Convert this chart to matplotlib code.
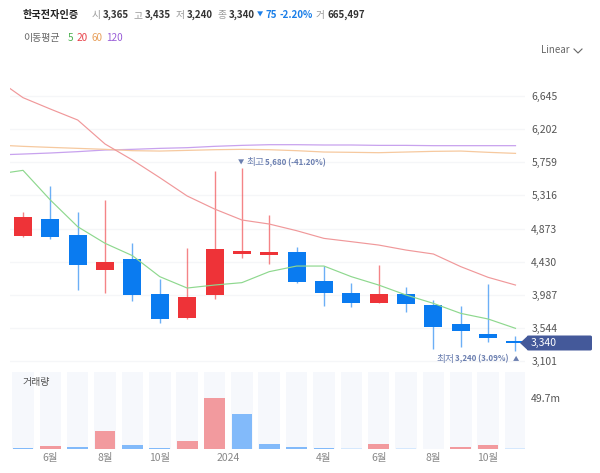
import matplotlib
matplotlib.use("Agg")
import matplotlib.pyplot as plt
from matplotlib.lines import Line2D
from matplotlib.patches import Polygon, FancyBboxPatch

plt.rcParams['font.family'] = ['Noto Sans CJK KR', 'DejaVu Sans']

# ---------- data ----------
opens  = [4777,5004,4782,4313,4461,3993,3671,3988,4536,4523,4554,4175,4006,3881,3992,3854,3591,3466,3365]
closes = [5027,4764,4385,4429,3988,3667,3961,4599,4568,4554,4157,4006,3881,3992,3859,3560,3507,3413,3340]
highs  = [5098,5437,5089,5259,4683,4193,4612,5646,5680,5049,4630,4371,4140,4389,4095,3917,3832,4131,3435]
lows   = [4764,4728,4050,4015,3908,3605,3667,3935,4483,4394,4148,3836,3819,3881,3752,3266,3293,3359,3240]
volumes = [1.3,2.9,2.2,17.7,3.9,1.3,8.0,49.7,34.4,5.1,2.2,1.3,1.0,5.1,0.9,0.7,2.2,4.5,0.8]
volume_up = [0,1,0,1,0,0,1,1,0,0,0,0,0,1,0,1,1,1,0]
faint_volume = [12,14,15,18]
ma5   = [5597,5651,5254,4897,4675,4510,4229,4077,4117,4149,4296,4371,4371,4229,4117,3984,3872,3738,3663,3538]
ma20  = [6881,6623,6471,6324,6003,5789,5553,5308,5134,4987,4933,4844,4741,4697,4652,4585,4532,4363,4220,4117]
ma60  = [5990,5972,5958,5945,5932,5914,5909,5918,5927,5932,5927,5914,5896,5892,5887,5896,5905,5909,5892,5878]
ma120 = [5856,5869,5883,5901,5923,5932,5945,5954,5972,5985,5994,5994,5990,5990,5985,5985,5981,5981,5981,5981]
price_ticks = [6645,6202,5759,5316,4873,4430,3987,3544,3101]
volume_tick = 49.7
x_tick_pos = [1,3,5,7.5,11,13,15,17]
x_tick_labels = ['6월','8월','10월','2024','4월','6월','8월','10월']
last_price = 3340

# ---------- style ----------
W, H = 600, 473
RED, BLUE = '#ee3338', '#0a7bf0'
VRED, VBLUE = '#f29a9e', '#82bafa'
VRED_F, VBLUE_F = '#fbe0e1', '#d5e8fd'
BG = '#f6f8fc'
NAVY = '#44599a'
ANN = '#6b7fb0'
TICK = '#555555'
FONT = 7.0

fig = plt.figure(figsize=(W/100, H/100), dpi=100, facecolor='white')

def px_axes(x0, y0, x1, y1):
    return fig.add_axes([x0/W, 1-y1/H, (x1-x0)/W, (y1-y0)/H])

def T(x, y, s, color='#333333', weight='normal', size=FONT, ha='left'):
    return fig.text(x/W, 1-y/H, s, color=color, fontweight=weight, fontsize=size, ha=ha, va='center')

step = 27.36
xl = ((10-23)/step, (525-23)/step)

# ---------- price panel ----------
ax = px_axes(10, 70, 525, 372)
ax.set_xlim(*xl)
ax.set_ylim(2954, 6993)
for s in ax.spines.values():
    s.set_visible(False)
ax.set_yticks(price_ticks)
ax.set_yticklabels([f'{v:,}' for v in price_ticks], fontsize=7.5, color=TICK)
ax.yaxis.tick_right()
ax.tick_params(axis='y', length=0, pad=4.5)
ax.set_xticks([])
ax.grid(axis='y', color='#f5f6f8', lw=1)
ax.set_axisbelow(True)

idx = list(range(len(opens)))
ma_idx = [-1] + idx
ax.plot(ma_idx, ma120, color='#c8a2ee', lw=0.9, zorder=2)
ax.plot(ma_idx, ma60, color='#f6c99f', lw=0.9, zorder=2)
ax.plot(ma_idx, ma20, color='#f0989a', lw=0.85, zorder=4)
ax.plot(ma_idx, ma5, color='#8ed88e', lw=0.85, zorder=4)

for i, o, c, h, l in zip(idx, opens, closes, highs, lows):
    col = RED if c >= o else BLUE
    ax.vlines(i, l, h, color=col, lw=1, alpha=0.6, zorder=3)
    ax.bar(i, abs(c-o), bottom=min(o, c), width=18/step, color=col, lw=0, zorder=3)

# ---------- volume panel ----------
av = px_axes(10, 372.3, 525, 449.3)
av.set_xlim(*xl)
av.set_ylim(0, 74.2)
for s in av.spines.values():
    s.set_visible(False)
av.bar(idx, [74.2]*len(idx), width=21.5/step, color=BG, lw=0, zorder=1)
for i, v, up in zip(idx, volumes, volume_up):
    if i in faint_volume:
        col = VRED_F if up else VBLUE_F
    else:
        col = VRED if up else VBLUE
    av.bar(i, v, width=20.7/step, color=col, lw=0, zorder=2)
av.set_xticks(x_tick_pos)
av.set_xticklabels(x_tick_labels, fontsize=7.5, color='#888888')
av.tick_params(axis='x', length=0, pad=3)
av.yaxis.tick_right()
av.set_yticks([volume_tick])
av.set_yticklabels([f'{volume_tick}m'], fontsize=7.5, color=TICK)
av.tick_params(axis='y', length=0, pad=4.5)
T(23, 382, '거래량', color='#555555', size=7.2)

# ---------- header ----------
T(23, 15, '한국전자인증', color='#222222', weight='bold', size=7.3)
for x, s, c, w in [
    (92, '시', '#999999', 'normal'), (103, '3,365', '#333333', 'bold'),
    (134, '고', '#999999', 'normal'), (145, '3,435', '#333333', 'bold'),
    (176, '저', '#999999', 'normal'), (187, '3,240', '#333333', 'bold'),
    (218, '종', '#999999', 'normal'), (229, '3,340', '#333333', 'bold'),
    (265, '75', '#1a7ee8', 'bold'), (280, '-2.20%', '#1a7ee8', 'bold'),
    (316, '거', '#999999', 'normal'), (328, '665,497', '#333333', 'bold')]:
    T(x, 15, s, color=c, weight=w)
T(256.5, 15, '▼', color='#1a7ee8', size=4.5)
T(23.5, 38, '이동평균', color='#666666', size=7.2)
T(68, 38, '5', color='#4cb050', size=7.2)
T(77, 38, '20', color='#e8434b', size=7.2)
T(91, 38, '60', color='#e8a05c', size=7.2)
T(106, 38, '120', color='#9a5fd8', size=7.2)

T(541, 50, 'Linear', color='#666666')
fig.add_artist(Line2D([574/W, 578/W, 582/W], [1-49/H, 1-53/H, 1-49/H],
                      color='#666666', lw=0.8, transform=fig.transFigure))

# ---------- annotations ----------
T(238, 162.5, '▼', color=ANN, size=4.5)
T(246, 162.5, '최고', color=ANN)
T(265, 162.5, '5,680 (-41.20%)', color=ANN, weight='bold', size=5.7)
T(436, 359, '최저', color=ANN)
T(455, 359, '3,240 (3.09%)', color=ANN, weight='bold', size=5.7)
T(513, 359, '▲', color=ANN, size=4.5)

# last price tag
yl = 343
fig.add_artist(Polygon([(520/W, 1-yl/H), (528/W, 1-(yl-7.5)/H), (528/W, 1-(yl+7.5)/H)],
                       closed=True, color=NAVY, lw=0, transform=fig.transFigure))
fig.add_artist(FancyBboxPatch((527/W, 1-350.5/H), 65/W, 15/H,
                              boxstyle='round,pad=0,rounding_size=0.003', color=NAVY, lw=0,
                              transform=fig.transFigure))
T(531, yl, f'{last_price:,}', color='white', size=7.5)

fig.savefig('out.png', dpi=100, facecolor='white')
